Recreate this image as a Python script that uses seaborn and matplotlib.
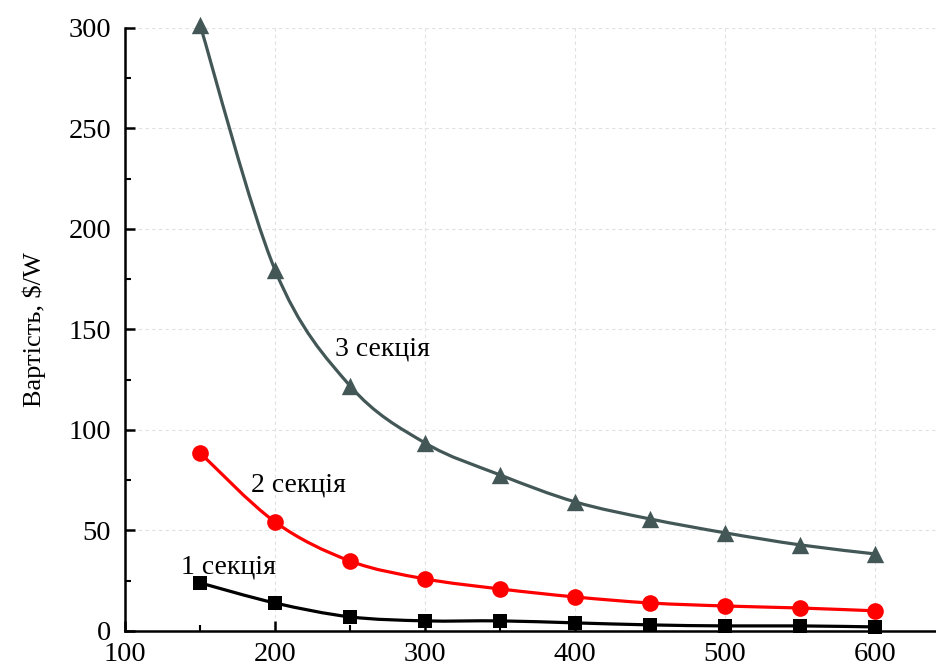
"""Cost per watt vs. power for 1, 2 and 3 section devices."""

import matplotlib
matplotlib.use('Agg')
import matplotlib.pyplot as plt
from matplotlib.path import Path
from matplotlib.patches import PathPatch
from matplotlib.ticker import MultipleLocator
import seaborn as sns
import numpy as np
import pandas as pd

power = [150, 200, 250, 300, 350, 400, 450, 500, 550, 600]
cost_1 = [23.9, 13.9, 7.0, 5.0, 5.0, 4.0, 3.0, 2.5, 2.5, 2.0]
cost_2 = [88.6, 54.2, 34.8, 25.9, 20.9, 16.9, 13.9, 12.4, 11.4, 10.0]
cost_3 = [301.5, 179.6, 121.9, 93.5, 77.6, 64.2, 55.7, 48.8, 42.8, 38.3]
labels = ['1 секція', '2 секція', '3 секція']

sns.set_theme(style='white')
plt.rcParams['font.family'] = ['Liberation Serif', 'DejaVu Serif']
plt.rcParams['text.color'] = 'black'
plt.rcParams['axes.labelcolor'] = 'black'


def smooth_path(x, y):
    """Catmull-Rom spline through the points, as a Bezier path."""
    x = np.asarray(x, float)
    y = np.asarray(y, float)
    pts = np.column_stack([x, y])
    verts = [pts[0]]
    codes = [Path.MOVETO]
    n = len(pts)
    for i in range(n - 1):
        p0 = pts[i - 1] if i > 0 else pts[i]
        p1, p2 = pts[i], pts[i + 1]
        p3 = pts[i + 2] if i + 2 < n else pts[i + 1]
        c1 = p1 + (p2 - p0) / 6
        c2 = p2 - (p3 - p1) / 6
        verts += [c1, c2, p2]
        codes += [Path.CURVE4] * 3
    return Path(verts, codes)


fig = plt.figure(figsize=(9.37, 6.68), dpi=100)
ax = fig.add_axes([0.1334, 0.0555, 0.866, 0.903])

series = [
    (cost_1, 'black', 's', 10),
    (cost_2, '#ff0000', 'o', 12),
    (cost_3, '#435757', '^', 12.5),
]
for vals, color, marker, ms in series:
    ax.add_patch(PathPatch(smooth_path(power, vals), facecolor='none',
                           edgecolor=color, lw=2.3, zorder=3, clip_on=False))
    df = pd.DataFrame({'power': power, 'cost': vals})
    sns.scatterplot(data=df, x='power', y='cost', ax=ax, marker=marker,
                    s=ms ** 2, color=color, edgecolor=color, linewidth=0,
                    zorder=4, clip_on=False)

ax.set_xlim(100, 641)
ax.set_ylim(0, 300)
ax.xaxis.set_major_locator(MultipleLocator(100))
ax.xaxis.set_minor_locator(MultipleLocator(50))
ax.yaxis.set_major_locator(MultipleLocator(50))
ax.yaxis.set_minor_locator(MultipleLocator(25))

ax.grid(True, which='major', linestyle=(0, (3, 3)), color='#e0e0e0', lw=0.8)
ax.set_axisbelow(True)

for side in ['top', 'right']:
    ax.spines[side].set_visible(False)
for side in ['left', 'bottom']:
    ax.spines[side].set_color('black')
    ax.spines[side].set_linewidth(1.8)

ax.tick_params(which='major', direction='in', length=7, width=1.8,
               labelsize=20.5, colors='black')
ax.tick_params(which='minor', direction='in', length=4, width=1.5,
               colors='black')
ax.tick_params(axis='x', which='both', bottom=True, pad=8)
ax.tick_params(axis='y', which='both', left=True, pad=10)

ax.set_xlabel('')
ax.set_ylabel('Вартість, $/W', fontsize=19, labelpad=16)

ax.text(169, 32, labels[0], fontsize=20, ha='center', va='center')
ax.text(216, 72.5, labels[1], fontsize=20, ha='center', va='center')
ax.text(272, 140, labels[2], fontsize=20, ha='center', va='center')

fig.savefig('out.png', dpi=100)
plt.close()
